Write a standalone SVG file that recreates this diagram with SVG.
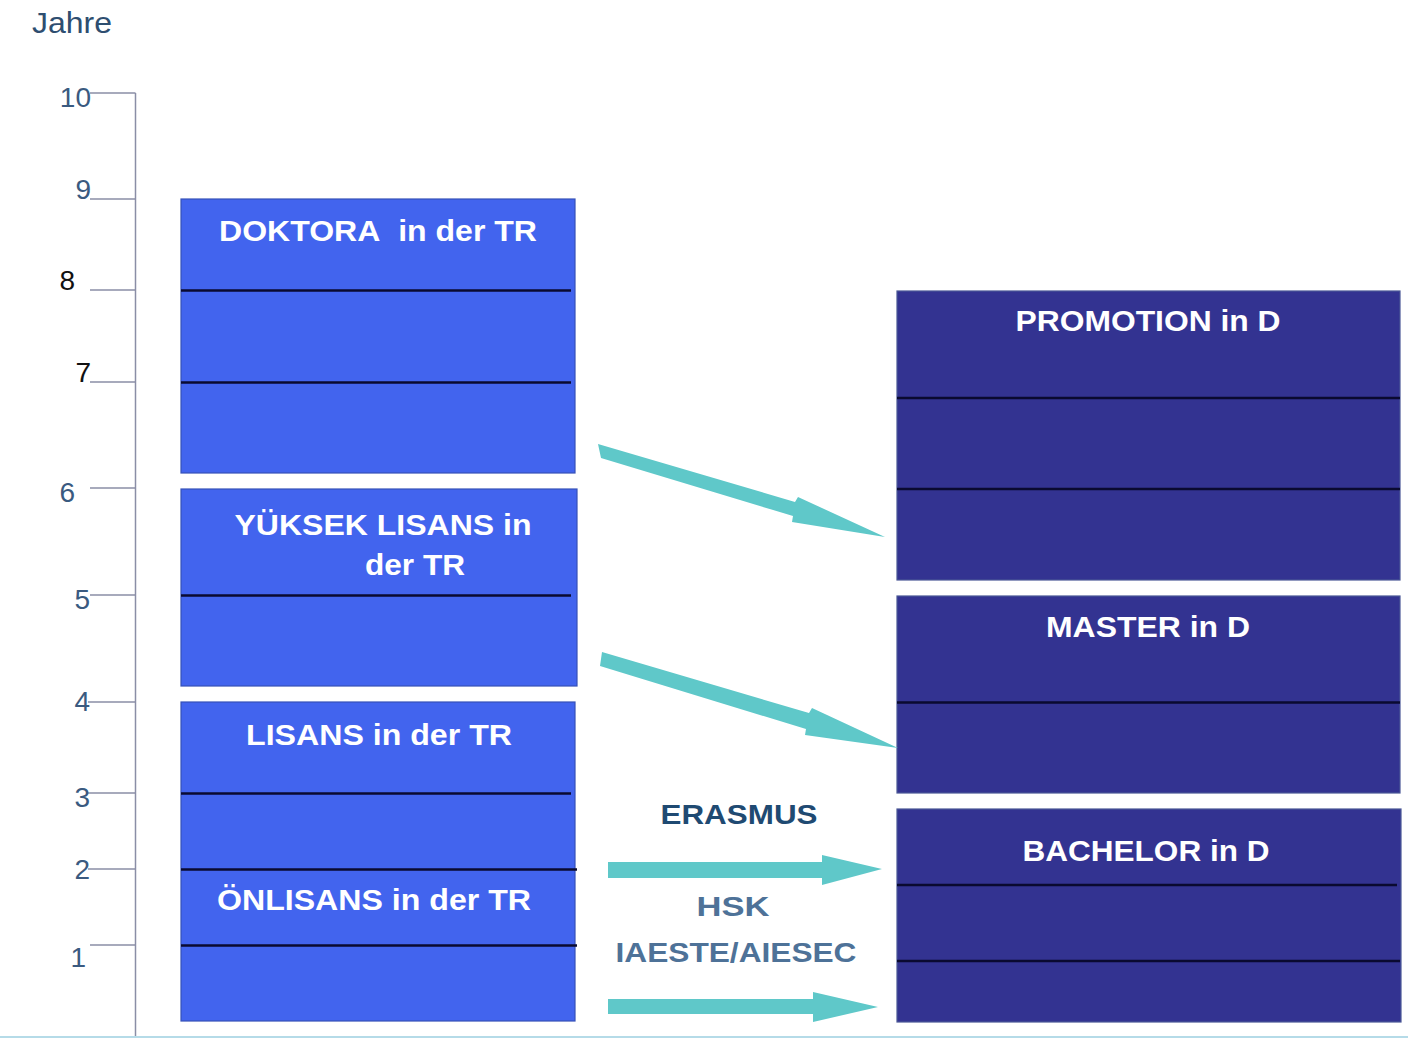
<svg xmlns="http://www.w3.org/2000/svg" width="1408" height="1038" viewBox="0 0 1408 1038">
<style>
.ax{stroke:#8a8ea6;stroke-width:1.5;fill:none}
.num{font-family:"Liberation Sans",Arial,sans-serif;font-size:28px;fill:#3a5a80;text-anchor:end}
.blk{fill:#111}
.lb{fill:#4264ee;stroke:#3651b8;stroke-width:1.2}
.rb{fill:#333391;stroke:#4a5796;stroke-width:1.2}
.div{stroke:#0a0a30;stroke-width:2.5}
.lab{font-family:"Liberation Sans",Arial,sans-serif;font-weight:bold;font-size:29px;fill:#ffffff;text-anchor:middle}
.arr{fill:#5fc8c9}
.prog{font-family:"Liberation Sans",Arial,sans-serif;font-weight:bold;font-size:28px;text-anchor:middle}
</style>
<rect width="1408" height="1038" fill="#ffffff"/>
<g id="axis">
<text x="32" y="33" font-family="Liberation Sans, Arial, sans-serif" font-size="29" fill="#2e4e70" textLength="80" lengthAdjust="spacingAndGlyphs">Jahre</text>
<path class="ax" d="M135.5 93 V1038 M90 93 H135.5 M90 199 H135.5 M90 290 H135.5 M90 382 H135.5 M90 488 H135.5 M90 595 H135.5 M88 702 H135.5 M88 793 H135.5 M88 869 H135.5 M90 945 H135.5"/>
<text class="num" x="91" y="107">10</text>
<text class="num" x="91" y="199">9</text>
<text class="num blk" x="75" y="290">8</text>
<text class="num blk" x="91" y="382">7</text>
<text class="num" x="75" y="502">6</text>
<text class="num" x="90" y="609">5</text>
<text class="num" x="90" y="711">4</text>
<text class="num" x="90" y="807">3</text>
<text class="num" x="90" y="879">2</text>
<text class="num" x="86" y="967">1</text>
</g>
<g id="doktora">
<rect class="lb" x="181" y="199" width="394" height="274"/>
<line class="div" x1="181" y1="290.5" x2="571" y2="290.5"/>
<line class="div" x1="181" y1="382.5" x2="571" y2="382.5"/>
<text class="lab" x="378" y="241" textLength="318" lengthAdjust="spacingAndGlyphs">DOKTORA&#160; in der TR</text>
</g>
<g id="yuksek">
<rect class="lb" x="181" y="489" width="396" height="197"/>
<line class="div" x1="181" y1="595.5" x2="571" y2="595.5"/>
<text class="lab" x="383" y="535" textLength="297" lengthAdjust="spacingAndGlyphs">YÜKSEK LISANS in</text>
<text class="lab" x="415" y="575" textLength="100" lengthAdjust="spacingAndGlyphs">der TR</text>
</g>
<g id="lisans">
<rect class="lb" x="181" y="702" width="394" height="319"/>
<line class="div" x1="181" y1="793.5" x2="571" y2="793.5"/>
<line class="div" x1="181" y1="869.5" x2="577" y2="869.5"/>
<line class="div" x1="181" y1="945.5" x2="577" y2="945.5"/>
<text class="lab" x="379" y="745" textLength="266" lengthAdjust="spacingAndGlyphs">LISANS in der TR</text>
<text class="lab" x="374" y="910" textLength="314" lengthAdjust="spacingAndGlyphs">ÖNLISANS in der TR</text>
</g>
<g id="promotion">
<rect class="rb" x="897" y="291" width="503" height="289"/>
<line class="div" x1="897" y1="398" x2="1400" y2="398"/>
<line class="div" x1="897" y1="489" x2="1400" y2="489"/>
<text class="lab" x="1148" y="331" textLength="265" lengthAdjust="spacingAndGlyphs">PROMOTION in D</text>
</g>
<g id="master">
<rect class="rb" x="897" y="596" width="503" height="197"/>
<line class="div" x1="897" y1="702.5" x2="1400" y2="702.5"/>
<text class="lab" x="1148" y="637" textLength="204" lengthAdjust="spacingAndGlyphs">MASTER in D</text>
</g>
<g id="bachelor">
<rect class="rb" x="897" y="809" width="504" height="213"/>
<line class="div" x1="897" y1="885" x2="1397" y2="885"/>
<line class="div" x1="897" y1="961" x2="1400" y2="961"/>
<text class="lab" x="1146" y="861" textLength="247" lengthAdjust="spacingAndGlyphs">BACHELOR in D</text>
</g>
<g id="connectors">
<polygon class="arr" points="598,444 795,502 798,497 885,537 792,522 793,516 601,458"/>
<polygon class="arr" points="602,652 809,713 812,708 898,748 805,735 806,729 600,666"/>
<polygon class="arr" points="608,862 822,862 822,855 882,869 822,885 822,878 608,878"/>
<polygon class="arr" points="608,999 813,999 813,992 878,1007 813,1022 813,1014 608,1014"/>
</g>
<g id="labels">
<text class="prog" x="739" y="824" fill="#1f4a72" textLength="157" lengthAdjust="spacingAndGlyphs">ERASMUS</text>
<text class="prog" x="733" y="916" fill="#4e7298" textLength="73" lengthAdjust="spacingAndGlyphs">HSK</text>
<text class="prog" x="736" y="962" fill="#4e7298" textLength="241" lengthAdjust="spacingAndGlyphs">IAESTE/AIESEC</text>
</g>
<line x1="0" y1="1037" x2="1408" y2="1037" stroke="#b5dbe8" stroke-width="2"/>
</svg>
